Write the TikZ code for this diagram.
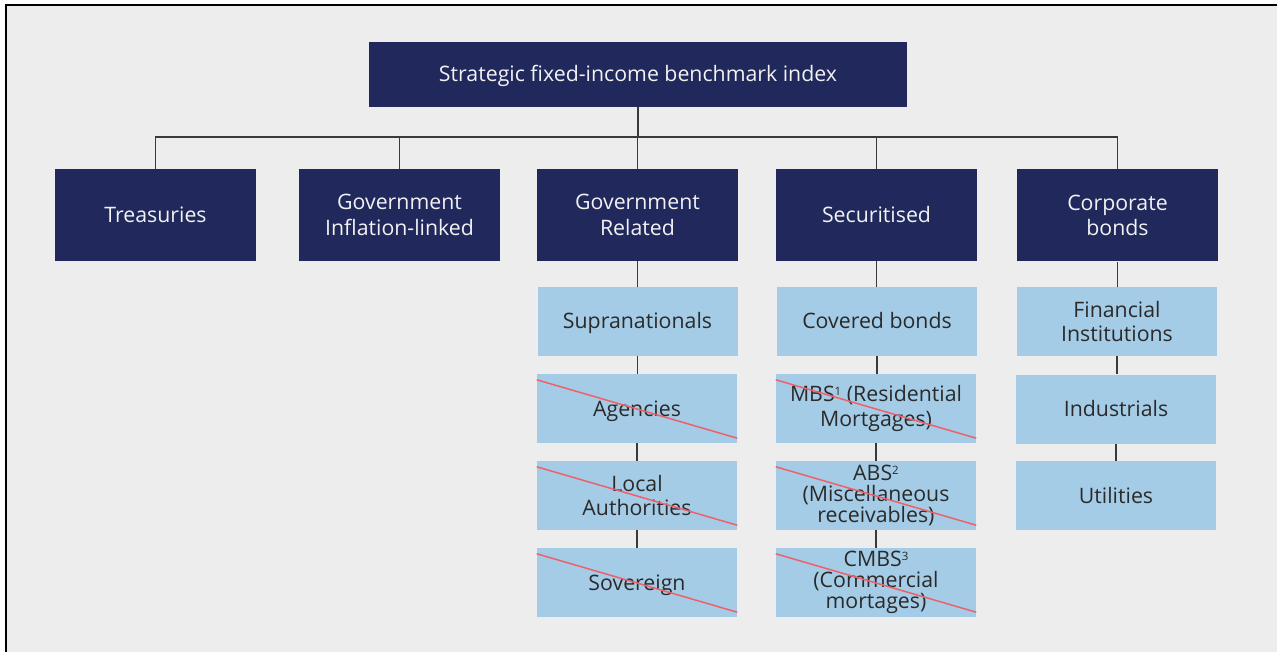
\documentclass[tikz,border=0pt]{standalone}
\usepackage{fontspec}
\setmainfont{Open Sans}
\definecolor{navy}{HTML}{20285C}
\definecolor{lightblue}{HTML}{A4CCE6}
\definecolor{bgray}{HTML}{EDEDED}
\definecolor{linegray}{HTML}{3A3A3A}
\definecolor{strikered}{HTML}{F0606A}
\definecolor{darktext}{HTML}{2A2A2A}
\definecolor{lighttext}{HTML}{F2F2F2}
\newcommand{\supnum}[1]{\raisebox{0.3em}{\fontsize{11.5}{11.5}\selectfont #1}}
\begin{document}
\begin{tikzpicture}[x=1pt,y=-1pt,
  darkbox/.style={fill=navy, text=lighttext, minimum width=201pt, minimum height=92pt,
    inner sep=0pt, align=center, font=\fontsize{21.3}{25.5}\selectfont},
  lightbox/.style={fill=lightblue, text=darktext, minimum width=200pt, minimum height=69pt,
    inner sep=0pt, align=center, font=\fontsize{21.3}{24.5}\selectfont},
  tightbox/.style={lightbox, font=\fontsize{21.3}{21}\selectfont},
  oneline/.style={text height=15pt, text depth=0pt},
  conn/.style={draw=linegray, line width=1.3pt},
  strike/.style={draw=strikered, line width=1.5pt}
]
\useasboundingbox (0,0) rectangle (1277,652);
\fill[white] (0,0) rectangle (1277,652);
\fill[bgray] (5,5) rectangle (1277,652);
\draw[black, line width=2pt] (5.8,652) -- (5.8,5) -- (1277,5);

% top
\node[darkbox, oneline, minimum width=538pt, minimum height=65pt] (top) at (638,74.5) {Strategic fixed-income benchmark index};

% level 2
\node[darkbox, oneline] (tre) at (155.5,215) {Treasuries};
\node[darkbox] (inf) at (399.5,215) {Government\\Inflation-linked};
\node[darkbox] (gov) at (637.5,215) {Government\\Related};
\node[darkbox, oneline] (sec) at (876.5,215) {Securitised};
\node[darkbox] (cor) at (1117.5,215.5) {Corporate\\bonds};

% level 3
\node[lightbox, oneline] (gov1) at (637.5,321.5) {Supranationals};
\node[lightbox, oneline] (gov2) at (637,408.5) {Agencies};
\node[lightbox] (gov3) at (637,495.5) {Local\\Authorities};
\node[lightbox, oneline] (gov4) at (637,582.5) {Sovereign};

\node[lightbox, oneline] (sec1) at (877,321.5) {Covered bonds};
\node[lightbox] (sec2) at (876,408.5) {MBS\supnum{1} (Residential\\Mortgages)};
\node[tightbox] (sec3) at (876,495.5) {ABS\supnum{2}\\(Miscellaneous\\receivables)};
\node[tightbox] (sec4) at (876,582.5) {CMBS\supnum{3}\\(Commercial\\mortages)};

\node[lightbox] (cor1) at (1117,321.5) {Financial\\Institutions};
\node[lightbox, oneline] (cor2) at (1116,409) {Industrials};
\node[lightbox, oneline] (cor3) at (1116,495.5) {Utilities};

% connectors
\coordinate (bar) at (0,137);
\draw[conn] (top.south) -- (top.south |- bar);
\draw[conn] (tre.north) -- (tre.north |- bar) -- (cor.north |- bar) -- (cor.north);
\draw[conn] (inf.north) -- (inf.north |- bar);
\draw[conn] (gov.north) -- (gov.north |- bar);
\draw[conn] (sec.north) -- (sec.north |- bar);

\draw[conn] (gov.south) -- (gov.south |- gov1.north);
\draw[conn] (gov1.south) -- (gov1.south |- gov2.north);
\draw[conn] (gov2.south) -- (gov2.south |- gov3.north);
\draw[conn] (gov3.south) -- (gov3.south |- gov4.north);

\draw[conn] (sec.south) -- (sec.south |- sec1.north);
\draw[conn] (sec1.south) -- (sec1.south |- sec2.north);
\draw[conn] (sec2.south) -- (sec2.south |- sec3.north);
\draw[conn] (sec3.south) -- (sec3.south |- sec4.north);

\draw[conn] (cor.south) -- (cor.south |- cor1.north);
\draw[conn] (cor1.south) -- (cor1.south |- cor2.north);
\draw[conn] (cor2.south) -- (cor2.south |- cor3.north);

% strike-through lines
\foreach \n in {gov2,gov3,gov4,sec2,sec3,sec4}{
  \draw[strike] ([yshift=-6pt]\n.north west) -- ([yshift=5pt]\n.south east);
}
\end{tikzpicture}
\end{document}
